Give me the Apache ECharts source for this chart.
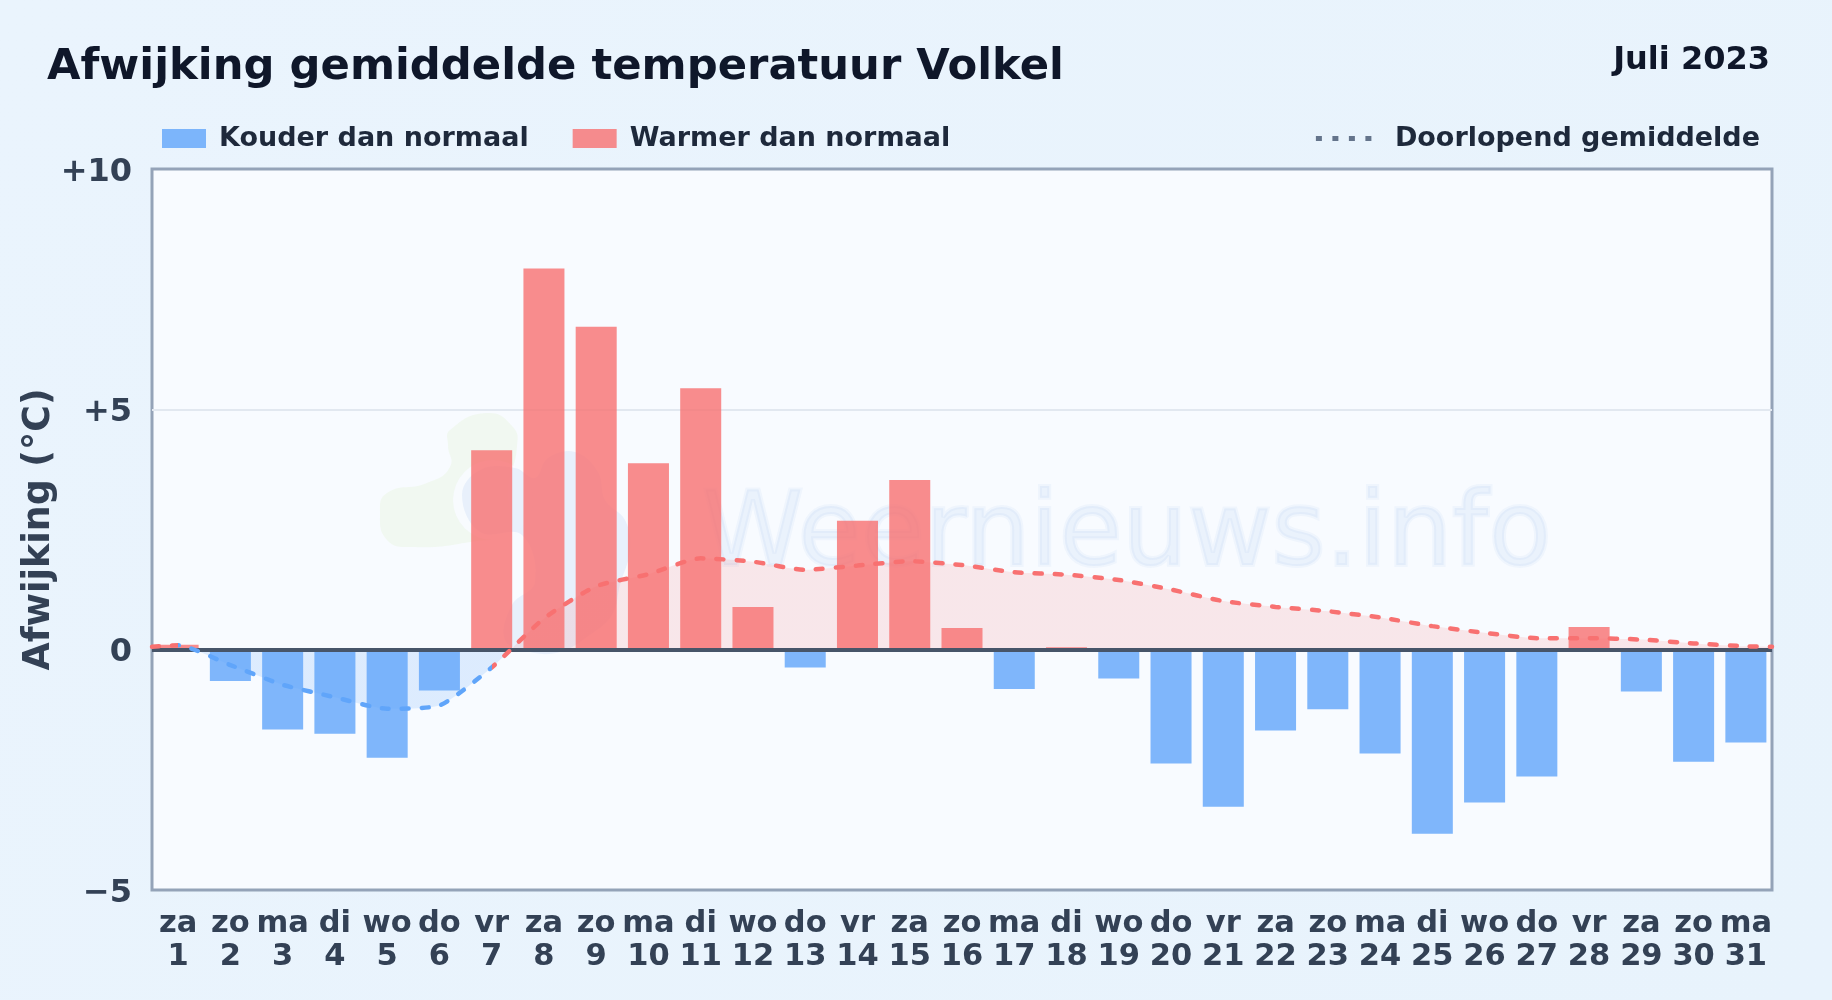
<!DOCTYPE html>
<html><head><meta charset="utf-8">
<style>html,body{margin:0;padding:0;width:1832px;height:1000px;overflow:hidden;background:#e9f3fc}#c{width:1832px;height:1000px}</style>
<script src="https://cdn.jsdelivr.net/npm/echarts@6/dist/echarts.min.js"></script>
</head><body><div id="c"></div>
<script>
const weekdays = ['za','zo','ma','di','wo','do','vr','za','zo','ma','di','wo','do','vr','za','zo','ma','di','wo','do','vr','za','zo','ma','di','wo','do','vr','za','zo','ma'];
const dayNumbers = [1,2,3,4,5,6,7,8,9,10,11,12,13,14,15,16,17,18,19,20,21,22,23,24,25,26,27,28,29,30,31];
const deviation = [0.1,-0.65,-1.66,-1.75,-2.25,-0.85,4.15,7.93,6.72,3.88,5.44,0.89,-0.37,2.68,3.53,0.45,-0.82,0.05,-0.6,-2.37,-3.27,-1.68,-1.24,-2.16,-3.83,-3.18,-2.64,0.47,-0.87,-2.33,-1.93];
const avgPositions = [0.5,1,2,3,4,5,6,7,8,9,10,11,12,13,14,15,16,17,18,19,20,21,22,23,24,25,26,27,28,29,30,31,31.5];
const avgValues = [0.06,0.09,-0.32,-0.73,-0.99,-1.23,-1.16,-0.37,0.65,1.32,1.57,1.9,1.83,1.66,1.75,1.84,1.76,1.61,1.56,1.45,1.25,1.01,0.89,0.8,0.67,0.49,0.35,0.24,0.24,0.21,0.13,0.07,0.06];
const yTicks = {min:-5,max:10,interval:5};

const font = '"DejaVu Sans"';
const blue='#60a5fa', red='#f87171';
const avgData = avgPositions.map((x,i)=>[x,avgValues[i]]);
const cats = weekdays.map((w,i)=>w+'\n'+dayNumbers[i]);
const chart = echarts.init(document.getElementById('c'),null,{renderer:'canvas'});
const wmGreen='rgba(190,225,120,0.10)', wmBlue='rgba(96,150,230,0.10)';
chart.setOption({
  animation:false,
  backgroundColor:{type:'linear',x:0,y:0,x2:1,y2:1,colorStops:[{offset:0,color:'#eaf4fd'},{offset:1,color:'#e8f3fc'}]},
  title:[
    {text:'Afwijking gemiddelde temperatuur Volkel',left:47,top:46,padding:0,textStyle:{fontFamily:font,fontWeight:'bold',fontSize:43.3,color:'#0f172a'}},
    {text:'Juli 2023',right:62,top:45,padding:0,textStyle:{fontFamily:font,fontWeight:'bold',fontSize:32,color:'#0f172a'}}
  ],
  legend:[
    {data:['Kouder dan normaal','Warmer dan normaal'],left:162,top:125,padding:0,itemWidth:44,itemHeight:19,itemGap:44,selectedMode:false,
     textStyle:{fontFamily:font,fontWeight:'bold',fontSize:27,color:'#1e293b',padding:[0,0,0,8]},icon:'rect'},
    {data:['Doorlopend gemiddelde'],right:72,top:125,padding:0,itemWidth:56,itemHeight:19,selectedMode:false,
     lineStyle:{color:'#64748b',width:5,type:[6,10.5],cap:'butt'},itemStyle:{opacity:0},
     textStyle:{fontFamily:font,fontWeight:'bold',fontSize:27,color:'#1e293b',padding:[0,0,0,18]}}
  ],
  grid:{left:152,right:60,top:169,bottom:110,show:true,backgroundColor:'#f8fbff',borderColor:'#94a3b8',borderWidth:3,containLabel:false},
  xAxis:[
    {type:'category',data:cats,position:'bottom',axisLine:{show:false},axisTick:{show:false},splitLine:{show:false},
     axisLabel:{interval:0,margin:18,fontFamily:font,fontWeight:'bold',fontSize:30.5,lineHeight:33,color:'#334155',hideOverlap:false}},
    {type:'value',min:0.5,max:31.5,show:false,splitLine:{show:false}}
  ],
  yAxis:{type:'value',min:yTicks.min,max:yTicks.max,interval:yTicks.interval,
    name:'Afwijking (°C)',nameLocation:'middle',nameGap:94,nameRotate:90,nameMoveOverlap:false,
    nameTextStyle:{fontFamily:font,fontWeight:'bold',fontSize:36.4,color:'#334155'},
    axisLine:{show:false},axisTick:{show:false},
    splitLine:{showMinLine:false,showMaxLine:false,lineStyle:{color:'#e2e8f0',width:2}},
    axisLabel:{margin:20,verticalAlign:'top',lineHeight:7,fontFamily:font,fontWeight:'bold',fontSize:32,color:'#334155',
      formatter:v=>v>0?'+'+v:(v<0?'\u2212'+Math.abs(v):'0')}},
  visualMap:[
    {show:false,type:'piecewise',seriesIndex:2,dimension:1,pieces:[{min:-20,lt:0,color:'rgba(96,165,250,0.18)'},{gte:0,max:20,color:'rgba(248,113,113,0.15)'}]},
    {show:false,type:'piecewise',seriesIndex:3,dimension:0,pieces:[{min:0,lt:1,color:red},{gte:1,lt:7,color:blue},{gte:7,max:40,color:red}]}
  ],
  series:[
    {name:'Kouder dan normaal',type:'bar',barWidth:'78.5%',barGap:'-100%',z:2,itemStyle:{color:'rgba(96,165,250,0.8)'},data:deviation.map(v=>v<0?v:null)},
    {name:'Warmer dan normaal',type:'bar',barWidth:'78.5%',barGap:'-100%',z:2,itemStyle:{color:'rgba(248,113,113,0.8)'},data:deviation.map(v=>v>=0?v:null),
      markLine:{silent:true,z:3,symbol:'none',label:{show:false},lineStyle:{color:'#475569',width:4,type:'solid'},data:[{yAxis:0}]}},
    {name:'gebied',type:'line',xAxisIndex:1,smooth:0.2,showSymbol:false,symbol:'none',z:1.5,lineStyle:{width:0},areaStyle:{opacity:1},data:avgData},
    {name:'Doorlopend gemiddelde',type:'line',xAxisIndex:1,smooth:0.2,showSymbol:false,symbol:'none',z:4,lineStyle:{width:4.5,type:[7,13],cap:'round'},data:avgData}
  ],
  graphic:[
    {type:'polygon',silent:true,z:1,shape:{smooth:0.5,points:[[450,430],[487,413],[513,427],[517,447],[508,490],[510,530],[470,542],[410,547],[387,540],[380,513],[387,493],[427,483],[450,467],[448,445]]},style:{fill:wmGreen}},
    {type:'circle',silent:true,z:1,shape:{cx:493,cy:500,r:40},style:{fill:'rgba(248,251,255,0.9)'}},
    {type:'polygon',silent:true,z:1,shape:{smooth:0.4,points:[[462,495],[480,470],[515,468],[535,478],[548,458],[575,452],[598,472],[605,500],[625,520],[630,550],[620,585],[612,615],[590,635],[560,652],[530,652],[505,640],[512,605],[535,582],[522,535],[480,532]]},style:{fill:wmBlue}},
    {type:'text',silent:true,z:1,left:700,top:485,style:{text:'Weernieuws.info',fontFamily:font,fontSize:103,fill:'rgba(70,130,210,0.075)',stroke:'rgba(70,130,210,0.05)',lineWidth:4}}
  ]
});
</script></body></html>
